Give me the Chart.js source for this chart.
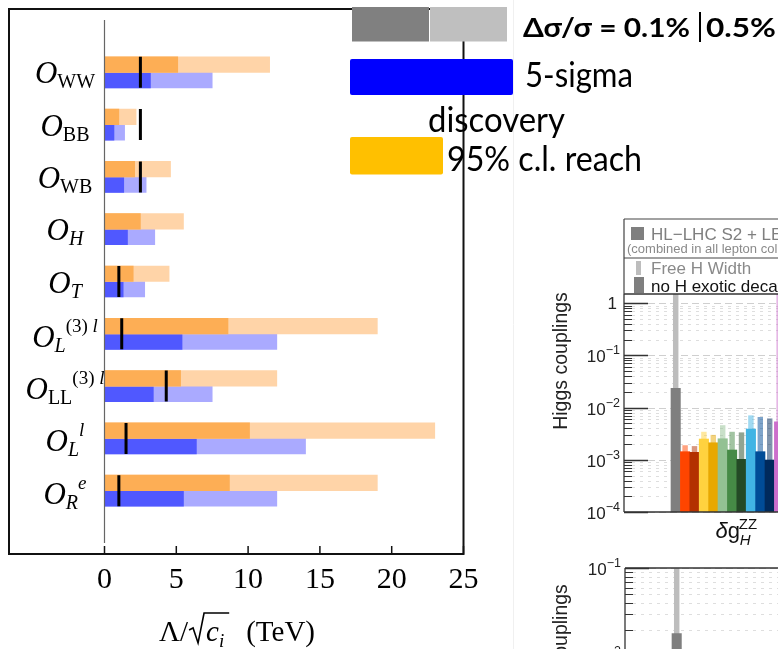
<!DOCTYPE html>
<html>
<head>
<meta charset="utf-8">
<title>Operator reach and Higgs couplings</title>
<script src="https://cdn.jsdelivr.net/npm/chart.js@4.4.1/dist/chart.umd.min.js"></script>
<style>
  html, body { margin: 0; padding: 0; background: #fff; overflow: hidden; width: 778px; height: 649px; }
  #wrap { position: relative; width: 778px; height: 649px; overflow: hidden; }
  canvas { position: absolute; }
  #main { left: 0; top: 0; }
  #hTop { left: 515px; top: 200px; }
  #hBot { left: 515px; top: 550px; }
</style>
</head>
<body>
<div id="wrap">
  <canvas id="hTop" width="400" height="350"></canvas>
  <canvas id="hBot" width="400" height="200"></canvas>
  <canvas id="main" width="778" height="649"></canvas>
</div>
<script>
const SERIF = '"Liberation Serif", "Times New Roman", serif';
const SANS  = 'Lato, "Noto Sans", sans-serif';
const ARIAL = '"Liberation Sans", Arial, sans-serif';

// ---- dimension-6 operators: O with subscript / superscript ----
const opSub       = ['WW', 'BB', 'WB', 'H', 'T', 'L', 'LL', 'L', 'R'];
const opSubItalic = [false, false, false, true, true, true, false, true, true];
const opSup       = ['', '', '', '', '', '(3) l', '(3) l', 'l', 'e'];

// reach in Λ/√c_i (TeV)
const cl95Dark     = [5.1, 1.0, 2.1, 2.5, 2.0, 8.6, 5.3, 10.1, 8.7];
const cl95Light    = [11.5, 2.2, 4.6, 5.5, 4.5, 19.0, 12.0, 23.0, 19.0];
const disc5Dark    = [3.2, 0.66, 1.34, 1.6, 1.3, 5.4, 3.4, 6.4, 5.5];
const disc5Light   = [7.5, 1.4, 2.9, 3.5, 2.8, 12.0, 7.5, 14.0, 12.0];
const currentBound = [2.5, 2.5, 2.5, null, 1.0, 1.2, 4.3, 1.5, 1.0];
const xTicks       = [0, 5, 10, 15, 20, 25];

// ---- Higgs coupling precision, δg_H^ZZ group ----
const higgsNoExotic  = [0.0233, 1.43e-3, 1.39e-3, 2.5e-3, 2.12e-3, 2.53e-3, 1.54e-3, 1.02e-3, 3.88e-3, 1.43e-3, 9.9e-4, 5.35e-3];
const higgsFreeWidth = [2.0, 1.9e-3, 1.83e-3, 3.44e-3, 3.0e-3, 4.6e-3, 3.44e-3, 3.35e-3, 7.1e-3, 6.6e-3, 6.2e-3, 2.0];
const higgsColors    = ['#7F7F7F', '#FF4500', '#B33000', '#FFD23F', '#E8A800', '#93C193', '#468A46', '#244A26', '#41B4E4', '#004C97', '#002A5C', '#CC6FCC'];
const higgsLowNoExotic  = [0.018];
const higgsLowFreeWidth = [0.5];
const higgsTopTicks = [1e-4, 1e-3, 1e-2, 1e-1, 1];
const higgsLowTicks = [1e-3, 1e-2, 1e-1];

// ================= left panel: operator reach =================
const pad = a => [null, ...a, null];
const rowLabels = ['', ...opSub.map((s, i) => 'O' + s + opSup[i]), ''];

function drawRich(ctx, parts, cx, baseline) {
  let total = 0;
  parts.forEach(p => { ctx.font = p.font; p.w = ctx.measureText(p.t).width; total += p.w + (p.kern || 0); });
  let x = cx - total / 2;
  parts.forEach(p => { ctx.font = p.font; ctx.fillText(p.t, x, baseline + (p.dy || 0)); x += p.w + (p.kern || 0); });
}

function fitText(ctx, text, x, base, w, size, weight) {
  ctx.font = `${weight} ${size}px ${SANS}`;
  const m = ctx.measureText(text).width;
  ctx.save();
  ctx.translate(x, base);
  ctx.scale(w / m, 1);
  ctx.fillText(text, 0, 0);
  ctx.restore();
}

function hline(ctx, x1, y1, x2, y2) { ctx.beginPath(); ctx.moveTo(x1, y1); ctx.lineTo(x2, y2); ctx.stroke(); }

const mainDecor = {
  id: 'mainDecor',
  afterDraw(chart) {
    const ctx = chart.ctx, xs = chart.scales.x, ys = chart.scales.y, ca = chart.chartArea;
    ctx.save();
    ctx.textAlign = 'left';
    ctx.textBaseline = 'alphabetic';

    // faint slide divider
    ctx.strokeStyle = '#f0f0f0'; ctx.lineWidth = 1;
    hline(ctx, 513.5, 0, 513.5, 649);

    // zero line
    const x0 = xs.getPixelForValue(0);
    ctx.strokeStyle = '#666'; ctx.lineWidth = 1.2;
    hline(ctx, x0, ca.top, x0, ca.bottom);

    // frame
    const fr = xs.getPixelForValue(xTicks[xTicks.length - 1]);
    const fb = ca.bottom + 11, ft = ca.top - 11, fl = 9;
    ctx.strokeStyle = '#111'; ctx.lineWidth = 2;
    ctx.strokeRect(fl, ft, fr - fl, fb - ft);

    // inward tick marks on the bottom edge
    ctx.lineWidth = 1.5;
    xTicks.forEach(v => { const px = xs.getPixelForValue(v); hline(ctx, px, fb, px, fb - 8); });

    // operator names
    ctx.fillStyle = '#000';
    opSub.forEach((s, i) => {
      const cy = ys.getPixelForValue(i + 1);
      const parts = [{ t: 'O', font: `italic 31px ${SERIF}` }];
      parts.push({ t: s, font: `${opSubItalic[i] ? 'italic ' : ''}20px ${SERIF}`, dy: 5 });
      if (opSup[i]) {
        const pre = opSup[i].slice(0, -1), last = opSup[i].slice(-1);
        if (pre) parts.push({ t: pre, font: `19px ${SERIF}`, dy: -15 });
        parts.push({ t: last, font: `italic 19px ${SERIF}`, dy: -15 });
      }
      drawRich(ctx, parts, 65, cy + (opSup[i] ? 13 : 11));
    });

    // axis title  Λ/√c_i (TeV)
    const tb = 641;
    ctx.font = `29px ${SERIF}`; const wA = ctx.measureText('Λ/').width;
    const wT = ctx.measureText('(TeV)').width;
    ctx.font = `italic 29px ${SERIF}`; const wC = ctx.measureText('c').width;
    ctx.font = `italic 19px ${SERIF}`; const wI = ctx.measureText('i').width;
    const radW = 17;
    const total = wA + 1 + radW + wC + wI + 5 + 17 + wT;
    let tx = 237 - total / 2;
    ctx.font = `29px ${SERIF}`; ctx.fillText('Λ/', tx, tb);
    const r0 = tx + wA + 1;
    const cx = r0 + radW;
    const vEnd = cx + wC + wI + 5;
    ctx.strokeStyle = '#000'; ctx.lineWidth = 1.6; ctx.lineJoin = 'miter';
    ctx.beginPath();
    ctx.moveTo(r0, tb - 11); ctx.lineTo(r0 + 4, tb - 13); ctx.lineTo(r0 + 9, tb + 2);
    ctx.lineTo(r0 + 15, tb - 28); ctx.lineTo(vEnd, tb - 28);
    ctx.stroke();
    ctx.font = `italic 29px ${SERIF}`; ctx.fillText('c', cx, tb);
    ctx.font = `italic 19px ${SERIF}`; ctx.fillText('i', cx + wC, tb + 6);
    ctx.font = `29px ${SERIF}`; ctx.fillText('(TeV)', vEnd + 17, tb);

    // key: precision shades and colour meaning
    ctx.fillStyle = '#808080'; ctx.fillRect(352, 7, 77, 34.5);
    ctx.fillStyle = '#BFBFBF'; ctx.fillRect(430, 7, 77, 34.5);
    ctx.fillStyle = '#000';
    fitText(ctx, 'Δσ/σ = 0.1%', 523, 37, 167, 27, 'bold');
    ctx.strokeStyle = '#000'; ctx.lineWidth = 2;
    hline(ctx, 700, 12, 700, 42);
    fitText(ctx, '0.5%', 706, 37, 70, 27, 'bold');

    ctx.fillStyle = '#0000FF';
    ctx.beginPath(); ctx.roundRect(350, 59, 163, 36, 2); ctx.fill();
    ctx.fillStyle = '#000';
    fitText(ctx, '5-sigma', 525, 86.5, 108, 34, 'normal');
    fitText(ctx, 'discovery', 428, 131.5, 137, 34, 'normal');

    ctx.fillStyle = '#FFC000';
    ctx.beginPath(); ctx.roundRect(350, 137, 93, 37.5, 2); ctx.fill();
    ctx.fillStyle = '#000';
    fitText(ctx, '95% c.l. reach', 447, 171, 195, 34, 'normal');

    ctx.restore();
  }
};

const barCommon = { barThickness: 15.5, borderWidth: 0 };
new Chart(document.getElementById('main'), {
  type: 'bar',
  data: {
    labels: rowLabels,
    datasets: [
      { label: '95% c.l. reach (0.1%)', data: pad(cl95Dark), backgroundColor: '#FDAE55', stack: 'cl95', ...barCommon },
      { label: '95% c.l. reach (0.5%)', data: pad(cl95Light), backgroundColor: '#FFD4A8', stack: 'cl95', ...barCommon },
      { label: '5-sigma discovery (0.1%)', data: pad(disc5Dark), backgroundColor: '#5058FF', stack: 'disc', ...barCommon },
      { label: '5-sigma discovery (0.5%)', data: pad(disc5Light), backgroundColor: '#AAAAFF', stack: 'disc', ...barCommon },
      { type: 'line', indexAxis: 'y', label: 'current bound', data: pad(currentBound), showLine: false,
        pointStyle: 'line', pointRotation: 90, pointRadius: 15.5, pointHoverRadius: 15.5,
        pointBorderWidth: 3, pointBorderColor: '#000', borderColor: '#000', order: -1 }
    ]
  },
  options: {
    responsive: false, animation: false, devicePixelRatio: 1, indexAxis: 'y',
    layout: { padding: { left: 104.5, right: 314.5, top: 20, bottom: 0 } },
    plugins: { legend: { display: false }, tooltip: { enabled: false } },
    scales: {
      x: {
        type: 'linear', min: 0, max: 25, stacked: false,
        afterBuildTicks: s => { s.ticks = xTicks.map(v => ({ value: v })); },
        grid: { display: false, drawTicks: false }, border: { display: false },
        ticks: { font: { family: SERIF, size: 30 }, color: '#000', padding: 19, maxRotation: 0, autoSkip: false },
        afterFit: s => { s.height = 106; }
      },
      y: {
        type: 'category', offset: false,
        grid: { display: false, drawTicks: false }, border: { display: false },
        ticks: { display: false },
        afterFit: s => { s.width = 0; }
      }
    }
  },
  plugins: [mainDecor]
});

// ================= right panels: Higgs couplings =================
const SLOTS = 30, FIRST = 5;
const place = arr => Array.from({ length: SLOTS }, (_, i) => (i >= FIRST && i - FIRST < arr.length) ? arr[i - FIRST] : null);
const fade = (hex, a) => {
  const n = parseInt(hex.slice(1), 16);
  return `rgba(${n >> 16},${(n >> 8) & 255},${n & 255},${a})`;
};
const lightColors = higgsColors.map((c, i) => i === 0 ? '#BDBDBD' : fade(c, 0.5));

function drawLogLabel(ctx, v, xRight, y) {
  const e = Math.round(Math.log10(v));
  ctx.fillStyle = '#222';
  ctx.textAlign = 'left';
  if (e === 0) {
    ctx.font = `17px ${ARIAL}`;
    const w = ctx.measureText('1').width;
    ctx.fillText('1', xRight - w - 3, y + 6);
    return;
  }
  const sup = '\u2212' + Math.abs(e);
  ctx.font = `12.5px ${ARIAL}`; const ws = ctx.measureText(sup).width;
  ctx.font = `17px ${ARIAL}`; const wb = ctx.measureText('10').width;
  const x0 = xRight - ws - wb;
  ctx.fillText('10', x0, y + 7);
  ctx.font = `12.5px ${ARIAL}`; ctx.fillText(sup, x0 + wb, y - 1);
}

function higgsDecor(opts) {
  return {
    id: 'higgsDecor',
    beforeDatasetsDraw(chart) {
      const ctx = chart.ctx, ys = chart.scales.y, ca = chart.chartArea;
      ctx.save();
      for (let e = Math.floor(Math.log10(ys.min)); e <= Math.ceil(Math.log10(ys.max)); e++) {
        for (let k = 1; k <= 9; k++) {
          const v = k * Math.pow(10, e);
          if (v < ys.min || v > ys.max) continue;
          const y = Math.round(ys.getPixelForValue(v)) + 0.5;
          ctx.strokeStyle = k === 1 ? '#cfcfcf' : '#dedede';
          ctx.lineWidth = 1;
          ctx.setLineDash(k === 1 ? [7, 4] : [3, 5]);
          hline(ctx, ca.left + (k === 1 ? 24 : 8), y, ca.right, y);
        }
      }
      ctx.restore();
    },
    afterDatasetsDraw(chart) {
      const ctx = chart.ctx, ys = chart.scales.y, xs = chart.scales.x, ca = chart.chartArea;
      ctx.save();
      ctx.strokeStyle = '#333';
      // ticks
      for (let e = Math.floor(Math.log10(ys.min)); e <= Math.ceil(Math.log10(ys.max)); e++) {
        for (let k = 1; k <= 9; k++) {
          const v = k * Math.pow(10, e);
          if (v < ys.min || v > ys.max) continue;
          const y = Math.round(ys.getPixelForValue(v)) + 0.5;
          ctx.lineWidth = k === 1 ? 1.5 : 1;
          hline(ctx, ca.left, y, ca.left + (k === 1 ? 24 : 8), y);
        }
      }
      // frame
      ctx.lineWidth = 1.3;
      hline(ctx, ca.left, ca.top, ca.right, ca.top);
      hline(ctx, ca.left, ca.top, ca.left, ca.bottom);
      hline(ctx, ca.left, ca.bottom, ca.right, ca.bottom);
      // tick labels
      opts.ticks.forEach(v => drawLogLabel(ctx, v, ca.left - 4, ys.getPixelForValue(v)));
      // axis title
      ctx.save();
      ctx.translate(opts.titleX, opts.titleY);
      ctx.rotate(-Math.PI / 2);
      ctx.font = `19.5px ${ARIAL}`; ctx.fillStyle = '#222'; ctx.textAlign = 'center'; ctx.textBaseline = 'middle';
      ctx.fillText('Higgs couplings', 0, 0);
      ctx.restore();

      if (opts.legend) {
        const lt = ca.top - 75, ld = ca.top - 36;
        ctx.strokeStyle = '#444'; ctx.lineWidth = 1.2;
        hline(ctx, ca.left, lt, ca.right, lt);
        hline(ctx, ca.left, lt, ca.left, ca.top);
        hline(ctx, ca.left, ld, ca.right, ld);
        const L = ca.left;
        ctx.fillStyle = '#7F7F7F'; ctx.fillRect(L + 7, lt + 8, 13, 13);
        ctx.textAlign = 'left'; ctx.textBaseline = 'alphabetic';
        ctx.font = `17px ${ARIAL}`; ctx.fillText('HL\u2212LHC S2 + LE', L + 27, lt + 20.5);
        ctx.fillStyle = '#8a8a8a'; ctx.font = `13px ${ARIAL}`;
        ctx.fillText('(combined in all lepton colliders)', L + 3, lt + 34);
        ctx.fillStyle = '#BDBDBD'; ctx.fillRect(L + 12, ld + 3, 5, 14);
        ctx.fillStyle = '#7F7F7F'; ctx.fillRect(L + 10, ld + 19, 10, 16);
        ctx.fillStyle = '#8a8a8a'; ctx.font = `17px ${ARIAL}`;
        ctx.fillText('Free H Width', L + 27, ld + 16);
        ctx.fillStyle = '#111';
        ctx.fillText('no H exotic decay', L + 27, ld + 33.5);
      }
      if (opts.group) {
        // group label δg_H^ZZ centred on its slots
        const gx = (xs.getPixelForValue(FIRST) + xs.getPixelForValue(FIRST + 13)) / 2;
        const gb = ca.bottom + 26;
        ctx.fillStyle = '#111'; ctx.textAlign = 'left'; ctx.textBaseline = 'alphabetic';
        ctx.font = `italic 22px ${ARIAL}`; const wd = ctx.measureText('δ').width;
        ctx.font = `22px ${ARIAL}`; const wg = ctx.measureText('g').width;
        ctx.font = `15px ${ARIAL}`; const wz = ctx.measureText('ZZ').width;
        const tot = wd + wg + wz;
        let gxs = gx - tot / 2;
        ctx.font = `italic 22px ${ARIAL}`; ctx.fillText('δ', gxs, gb);
        ctx.font = `22px ${ARIAL}`; ctx.fillText('g', gxs + wd, gb);
        ctx.font = `15px ${ARIAL}`; ctx.fillText('ZZ', gxs + wd + wg - 1, gb - 9);
        ctx.font = `italic 15px ${ARIAL}`; ctx.fillText('H', gxs + wd + wg, gb + 7);
      }
      ctx.restore();
    }
  };
}

function higgsChart(id, noExotic, freeWidth, yMin, yMax, padding, opts) {
  return new Chart(document.getElementById(id), {
    type: 'bar',
    data: {
      labels: Array.from({ length: SLOTS }, () => ''),
      datasets: [
        { label: 'no H exotic decay', data: place(noExotic), backgroundColor: place(higgsColors),
          grouped: false, barPercentage: 1, categoryPercentage: 1, borderWidth: 0 },
        { label: 'Free H Width', data: place(freeWidth), backgroundColor: place(lightColors),
          grouped: false, barPercentage: 0.58, categoryPercentage: 1, borderWidth: 0 }
      ]
    },
    options: {
      responsive: false, animation: false, devicePixelRatio: 1,
      layout: { padding },
      plugins: { legend: { display: false }, tooltip: { enabled: false } },
      scales: {
        x: { type: 'category', offset: true, grid: { display: false, drawTicks: false }, border: { display: false },
             ticks: { display: false }, afterFit: s => { s.height = 0; } },
        y: { type: 'logarithmic', min: yMin, max: yMax, grid: { display: false, drawTicks: false }, border: { display: false },
             ticks: { display: false }, afterFit: s => { s.width = 0; } }
      }
    },
    plugins: [higgsDecor(opts)]
  });
}

higgsChart('hTop', higgsNoExotic, higgsFreeWidth, 1e-4, 1.5,
  { left: 109, top: 94, right: 9, bottom: 38 },
  { ticks: higgsTopTicks, titleX: 47, titleY: 161, legend: true, group: true });

higgsChart('hBot', higgsLowNoExotic, higgsLowFreeWidth, 1e-3, 1e-1,
  { left: 110, top: 18, right: 8, bottom: 6 },
  { ticks: higgsLowTicks, titleX: 47, titleY: 103, legend: false, group: false });
</script>
</body>
</html>
